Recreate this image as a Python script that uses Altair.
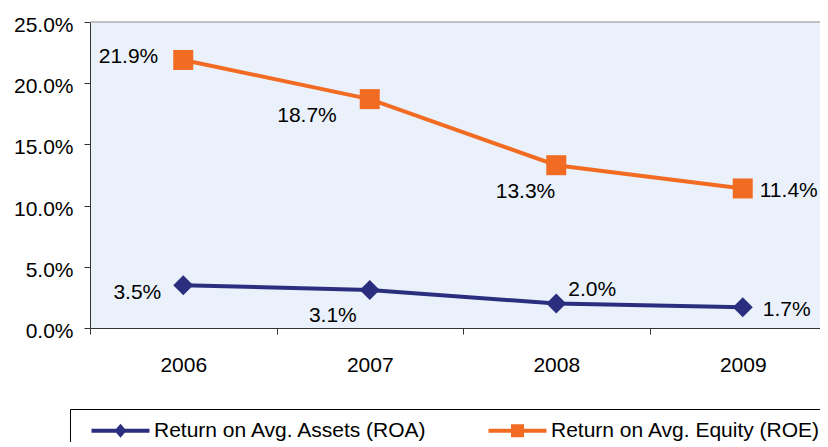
import altair as alt
import pandas as pd

# ---- data ----
years = ["2006", "2007", "2008", "2009"]
roa = [3.5, 3.1, 2.0, 1.7]
roe = [21.9, 18.7, 13.3, 11.4]
series_names = ["Return on Avg. Assets (ROA)", "Return on Avg. Equity (ROE)"]
y_ticks = [0, 5, 10, 15, 20, 25]

NAVY = "#2B2E7E"
ORANGE = "#F26B22"
FONT = "Liberation Sans"

rows = []
for name, vals in zip(series_names, [roa, roe]):
    for yr, v in zip(years, vals):
        rows.append({"year": yr, "yr": int(yr), "series": name, "value": v / 100.0})
df = pd.DataFrame(rows)

# visible plot width; the full category axis is a bit wider and runs past the picture edge
W, H = 730, 306
W_FULL = 746
n = len(years)
x_lo = int(years[0]) - 0.5
x_hi = x_lo + n * W / W_FULL
band_px = W_FULL / n

x_enc = alt.X(
    "yr:Q",
    scale=alt.Scale(domain=[x_lo, x_hi], nice=False, zero=False),
    axis=alt.Axis(title=None, values=[x_lo + i for i in range(n)],
                  labelExpr="'' + (datum.value + 0.5)", labelOffset=band_px / 2,
                  labelFlush=False, labelOverlap=False, labelBound=False,
                  tickSize=6, labelPadding=20, grid=False),
)
y_enc = alt.Y(
    "value:Q",
    scale=alt.Scale(domain=[0, 0.25], nice=False, zero=True),
    axis=alt.Axis(title=None, format=".1%", values=[t / 100 for t in y_ticks],
                  tickSize=6, labelPadding=11, labelOffset=3.5, grid=False),
)

base = alt.Chart(df).encode(x=x_enc, y=y_enc)

layers = []

# top border of the plot area
layers.append(
    alt.Chart(pd.DataFrame({"a": [0]})).mark_rule(color="#8C8C8C", strokeWidth=1.2)
    .encode(y=alt.datum(y_ticks[-1] / 100))
)

styles = {
    series_names[0]: (NAVY, "diamond"),
    series_names[1]: (ORANGE, "square"),
}
for name in series_names:
    col, shp = styles[name]
    sub = base.transform_filter(alt.datum.series == name)
    layers.append(sub.mark_line(color=col, strokeWidth=4))
    layers.append(sub.mark_point(shape=shp, filled=True, size=400, color=col, opacity=1))

# invisible layer that carries the legend (line + marker symbols)
path_roa = "M0,-0.2H5.8V0.2H0Z M2.9,-0.7L3.5,0L2.9,0.7L2.3,0Z"
path_roe = "M0,-0.2H5.8V0.2H0Z M2.25,-0.65H3.55V0.65H2.25Z"
leg = alt.Legend(
    title=None, orient="none", legendX=-20, legendY=387, direction="horizontal",
    columns=2, columnPadding=50, padding=11, strokeColor="black", fillColor="white",
    labelFont=FONT, labelFontSize=21, labelColor="black", labelLimit=600, labelOffset=52,
    symbolSize=400, symbolStrokeWidth=0, symbolOpacity=1,
)
layers.append(
    base.mark_point(filled=True, opacity=0, size=400).encode(
        color=alt.Color("series:N", scale=alt.Scale(domain=series_names, range=[NAVY, ORANGE]), legend=leg),
        shape=alt.Shape("series:N", scale=alt.Scale(domain=series_names, range=[path_roa, path_roe]), legend=leg),
    )
)

# data labels
label_offsets = {
    series_names[1]: [(-25, -3, "right"), (-33, 17, "right"), (-1, 27, "right"), (17, 3, "left")],
    series_names[0]: [(-22, 8, "right"), (-13, 26, "right"), (12, -14, "left"), (20, 3, "left")],
}
for name in series_names:
    for yr, (dx, dy, al) in zip(years, label_offsets[name]):
        layers.append(
            base.transform_filter((alt.datum.series == name) & (alt.datum.year == yr))
            .mark_text(dx=dx, dy=dy, align=al, baseline="middle", font=FONT, fontSize=21, color="black")
            .encode(text=alt.Text("value:Q", format=".1%"))
        )

chart = (
    alt.layer(*layers)
    .properties(
        width=W, height=H,
        autosize=alt.AutoSizeParams(type="none"),
        padding={"left": 82, "top": 14, "right": 0, "bottom": 114},
        background="white",
    )
    .configure_view(fill="#EAF1FA", stroke=None)
    .configure_axis(labelFont=FONT, labelFontSize=21, labelColor="black",
                    domainColor="#333333", tickColor="#333333", domainWidth=1, tickWidth=1)
)

chart.save("out.html", embed_options={"renderer": "svg", "actions": False})
